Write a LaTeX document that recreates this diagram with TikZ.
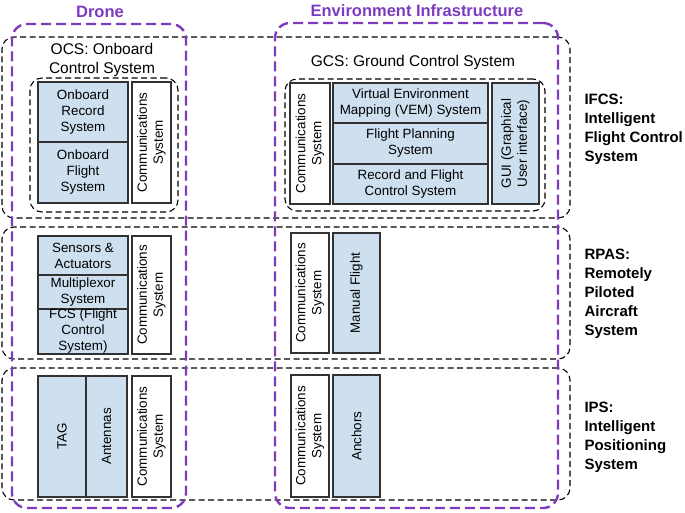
\documentclass[tikz,border=0pt]{standalone}
\usepackage{fontspec}
\setmainfont{Liberation Sans}
\setsansfont{Liberation Sans}
\usetikzlibrary{positioning}
\definecolor{boxblue}{RGB}{206,224,240}
\definecolor{boxline}{RGB}{50,50,50}
\definecolor{dpurple}{RGB}{125,60,190}
\tikzset{
  bx/.style={draw=boxline, line width=1.3pt, inner sep=0pt, align=center,
    font=\fontsize{13.4}{16}\selectfont},
  bluebox/.style={bx, fill=boxblue},
  whitebox/.style={bx, fill=white},
  rowbox/.style={draw=black, dash pattern=on 6pt off 3.5pt, line width=1.1pt,
    rounded corners=12pt, inner sep=0pt},
  purplebox/.style={draw=dpurple, dash pattern=on 10pt off 5pt, line width=2.4pt,
    rounded corners=15pt, inner sep=0pt},
  title/.style={text=dpurple, font=\fontsize{16.5}{20}\selectfont\bfseries},
  sidelabel/.style={anchor=west, align=left, font=\fontsize{15}{19}\selectfont\bfseries},
  sublabel/.style={align=center, font=\fontsize{15.5}{19}\selectfont},
}
\begin{document}
\begin{tikzpicture}[x=1pt, y=-1pt]
\useasboundingbox (0,0) rectangle (685,512);
% rows
\node[rowbox, minimum width=568pt, minimum height=181pt] (ifcs) at (286,127.5) {};
\node[rowbox, minimum width=568pt, minimum height=132pt] (rpas) at (286,293) {};
\node[rowbox, minimum width=568pt, minimum height=132pt] (ips) at (286,434) {};
% inner dashed groups
\node[rowbox, minimum width=148pt, minimum height=134pt] (ocs) at (104,145) {};
\node[rowbox, minimum width=260pt, minimum height=132pt] (gcs) at (415,145) {};
% purple columns
\node[purplebox, minimum width=174pt, minimum height=484pt] (drone) at (99,266) {};
\node[purplebox, minimum width=283pt, minimum height=485pt] (env) at (416.5,265.5) {};
% titles
\node[title] (tdrone) at (100,12) {Drone};
\node[title] (tenv) at (417,11) {Environment Infrastructure};
\node[sublabel] (locs) at (102,60) {OCS: Onboard\\Control System};
\node[sublabel] (lgcs) at (413,62) {GCS: Ground Control System};
\node[sidelabel] (lifcs) at (581,129) {IFCS:\\Intelligent\\Flight Control\\System};
\node[sidelabel] (lrpas) at (581,294) {RPAS:\\Remotely\\Piloted\\Aircraft\\System};
\node[sidelabel] (lips) at (581,437.5) {IPS:\\Intelligent\\Positioning\\System};
% row 1 drone
\node[bluebox, minimum width=90pt, minimum height=60pt] (ors) at (83,112) {Onboard\\Record\\System};
\node[bluebox, minimum width=90pt, minimum height=61pt] (ofs) at (83,172.5) {Onboard\\Flight\\System};
\node[whitebox, rotate=90, minimum width=121pt, minimum height=39pt] (comm1) at (151.5,142.5) {Communications\\System};
% row 1 env
\node[whitebox, rotate=90, minimum width=121pt, minimum height=40pt] (comm2) at (310,143.5) {Communications\\System};
\node[bluebox, minimum width=155pt, minimum height=40pt] (vem) at (410.5,103) {Virtual Environment\\Mapping (VEM) System};
\node[bluebox, minimum width=155pt, minimum height=41pt] (fp) at (410.5,143.5) {Flight Planning\\System};
\node[bluebox, minimum width=155pt, minimum height=40pt] (rfc) at (410.5,184) {Record and Flight\\Control System};
\node[bluebox, rotate=90, minimum width=121pt, minimum height=47pt] (gui) at (515.5,143.5) {GUI (Graphical\\User interface)};
% row 2 drone
\node[bluebox, minimum width=90pt, minimum height=39pt] (sens) at (83,255.5) {Sensors \&\\Actuators};
\node[bluebox, minimum width=90pt, minimum height=34pt] (mux) at (83,292) {Multiplexor\\System};
\node[bluebox, minimum width=90pt, minimum height=45pt] (fcs) at (83,331.5) {FCS (Flight\\Control\\System)};
\node[whitebox, rotate=90, minimum width=118pt, minimum height=39pt] (comm3) at (151.5,295) {Communications\\System};
% row 2 env
\node[whitebox, rotate=90, minimum width=120pt, minimum height=38pt] (comm4) at (310,293) {Communications\\System};
\node[bluebox, rotate=90, minimum width=120pt, minimum height=47pt] (manual) at (356.5,293) {Manual Flight};
% row 3 drone
\node[bluebox, rotate=90, minimum width=121pt, minimum height=48pt] (tag) at (62,436.5) {TAG};
\node[bluebox, rotate=90, minimum width=121pt, minimum height=41pt] (ant) at (106.5,436.5) {Antennas};
\node[whitebox, rotate=90, minimum width=121pt, minimum height=39pt] (comm5) at (151.5,436.5) {Communications\\System};
% row 3 env
\node[whitebox, rotate=90, minimum width=122pt, minimum height=38pt] (comm6) at (310,436) {Communications\\System};
\node[bluebox, rotate=90, minimum width=122pt, minimum height=47pt] (anchors) at (356.5,436) {Anchors};
\end{tikzpicture}
\end{document}
